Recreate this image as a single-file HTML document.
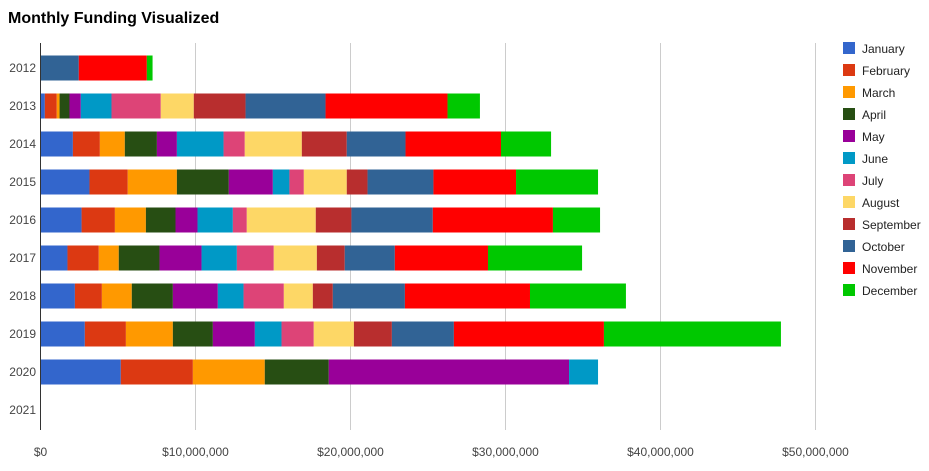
<!DOCTYPE html>
<html><head><meta charset="utf-8"><style>
body{margin:0;background:#fff;font-family:"Liberation Sans",Arial,sans-serif;}
svg text{font-family:"Liberation Sans",Arial,sans-serif;}
</style></head><body>
<svg id="chart" width="929" height="466">
<text x="8" y="23" font-size="16" font-weight="bold" fill="#000">Monthly Funding Visualized</text>
<g id="grid"></g><g id="bars"></g><g id="axes"></g><g id="legend"></g>
</svg>
<script>
const years=["2012","2013","2014","2015","2016","2017","2018","2019","2020","2021"];
const months=["January","February","March","April","May","June","July","August","September","October","November","December"];
const colors=["#3366cc","#dc3912","#ff9900","#274e13","#990099","#0099c6","#dd4477","#fdd766","#b82e2e","#316395","#ff0000","#00c800"];
const ticks=[0,10,20,30,40,50];
const tickLabels=["$0","$10,000,000","$20,000,000","$30,000,000","$40,000,000","$50,000,000"];
// values in millions, per year, Jan..Dec
const v2012=[0,0,0,0,0,0,0,0,0,2.47,4.39,0.37];
const v2013=[0.28,0.77,0.18,0.64,0.73,1.98,3.18,2.13,3.34,5.16,7.87,2.09];
const v2014=[2.09,1.74,1.61,2.07,1.29,3.01,1.37,3.68,2.90,3.79,6.16,3.23];
const v2015=[3.16,2.47,3.17,3.35,2.84,1.07,0.93,2.77,1.34,4.25,5.33,5.29];
const v2016=[2.65,2.15,2.00,1.91,1.42,2.28,0.90,4.45,2.30,5.25,7.75,3.04];
const v2017=[1.74,2.02,1.29,2.63,2.71,2.28,2.38,2.78,1.80,3.23,6.01,6.07];
const v2018=[2.22,1.74,1.93,2.65,2.90,1.66,2.60,1.87,1.29,4.65,8.07,6.19];
const v2019=[2.86,2.65,3.03,2.58,2.71,1.72,2.08,2.59,2.45,4.00,9.68,11.42];
const v2020=[5.18,4.65,4.64,4.13,15.5,1.87,0,0,0,0,0,0];
const v2021=[0,0,0,0,0,0,0,0,0,0,0,0];
const values=[v2012,v2013,v2014,v2015,v2016,v2017,v2018,v2019,v2020,v2021];

const NS="http://www.w3.org/2000/svg";
const x0=40.5,pxPerM=15.5,plotTop=49,rowH=38,barH=25,gridTop=43,gridBottom=430;
const xs=v=>x0+v*pxPerM;
const yc=i=>plotTop+rowH*i+rowH/2;
function mk(tag,attrs,parent){const e=document.createElementNS(NS,tag);for(const k in attrs)e.setAttribute(k,attrs[k]);parent.appendChild(e);return e;}
const grid=document.getElementById('grid'),bars=document.getElementById('bars'),axes=document.getElementById('axes'),legend=document.getElementById('legend');
ticks.forEach((t,i)=>{
  if(i>0){const l=mk('line',{x1:xs(t),x2:xs(t),y1:gridTop,y2:gridBottom,stroke:'#cccccc','stroke-width':1},grid);
  
  }
  const tx=mk('text',{x:xs(t),y:456,'font-size':12,fill:'#444','text-anchor':'middle'},axes);
  tx.textContent=tickLabels[i];
  
  
});
years.forEach((y,i)=>{
  const tx=mk('text',{x:36,y:yc(i)+4,'font-size':12,fill:'#444','text-anchor':'end'},axes);
  tx.textContent=y;
  
  
  let acc=0;
  values[i].forEach((v,m)=>{
    if(v<=0)return;
    const r=mk('rect',{x:xs(acc),y:yc(i)-barH/2,width:v*pxPerM,height:barH,fill:colors[m]},bars);
    
    
    acc+=v;
  });
});
const ax=mk('line',{x1:40.5,x2:40.5,y1:gridTop,y2:gridBottom,stroke:'#333','stroke-width':1},axes);


months.forEach((m,i)=>{
  const g=mk('g',{},legend);
  
  
  mk('rect',{x:843,y:42+22*i,width:12,height:12,fill:colors[i]},g);
  const t=mk('text',{x:862,y:53+22*i,'font-size':12,fill:'#222'},g);
  t.textContent=m;
});
</script>
</body></html>
